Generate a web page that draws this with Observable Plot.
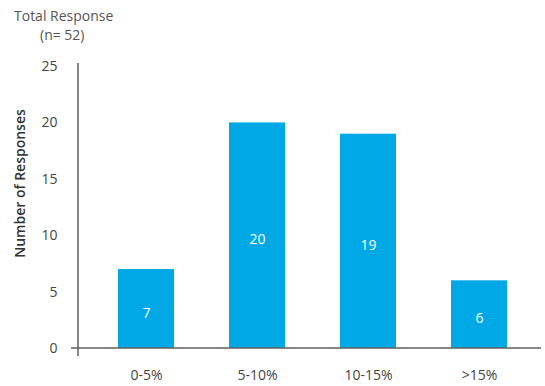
<!DOCTYPE html>
<html><head><meta charset="utf-8">
<script src="https://cdn.jsdelivr.net/npm/d3@7"></script>
<script src="https://cdn.jsdelivr.net/npm/@observablehq/plot@0.6"></script>
<style>
body{margin:0;background:#fff;font-family:"Open Sans",sans-serif;}
#title{height:46px;position:relative;color:#555;font-size:14px;}
#title .l1{position:absolute;left:14px;top:6px;}
#title .l2{position:absolute;left:40px;top:25px;}
</style></head><body>
<div id="title"><div class="l1">Total Response</div><div class="l2">(n= 52)</div></div>
<div id="chart"></div>
<script>
const categories = ["0-5%", "5-10%", "10-15%", ">15%"];
const responses = [7, 20, 19, 6];
const yTicks = [0, 5, 10, 15, 20, 25];
const yLabel = "Number of Responses";

const data = categories.map((c, i) => ({cat: c, v: responses[i]}));
const axisColor = "#5f5f5f";

const axisLines = (index, scales, values, dims) => {
  const g = d3.create("svg:g");
  const x0 = dims.marginLeft;
  g.append("line").attr("x1", x0).attr("x2", x0)
    .attr("y1", scales.y(25) - 3).attr("y2", scales.y(0) + 8)
    .attr("stroke", axisColor).attr("stroke-width", 1.5);
  g.append("line").attr("x1", x0 - 7).attr("x2", dims.width - 4)
    .attr("y1", scales.y(0)).attr("y2", scales.y(0))
    .attr("stroke", axisColor).attr("stroke-width", 1.5);
  return g.node();
};

const chart = Plot.plot({
  width: 545,
  height: 340,
  marginTop: 20,
  marginBottom: 38,
  marginLeft: 78,
  marginRight: 4,
  style: {fontFamily: "'Open Sans', sans-serif", fontSize: "14px", color: "#444", background: "#fff"},
  x: {domain: categories, range: [90, 534], paddingInner: 0.5, paddingOuter: 0.25, label: null},
  y: {domain: [0, 25], label: null},
  marks: [
    Plot.barY(data, {x: "cat", y: "v", fill: "#00A9E6"}),
    Plot.text(data, {x: "cat", y: d => d.v / 2, text: d => String(d.v), fill: "white", fontSize: 14, dy: 4}),
    Plot.axisY(yTicks, {tickSize: 0, tickPadding: 21, fontSize: 14, fill: "#444", label: null}),
    Plot.axisX({tickSize: 0, tickPadding: 22, fontSize: 14, fill: "#444", label: null}),
    Plot.text([yLabel], {frameAnchor: "left", textAnchor: "middle", dx: -58, dy: -24, rotate: -90, text: d => d, fontSize: 14, fontWeight: 600, fill: "#333"}),
    axisLines
  ]
});
document.getElementById("chart").appendChild(chart);
</script>
</body></html>
